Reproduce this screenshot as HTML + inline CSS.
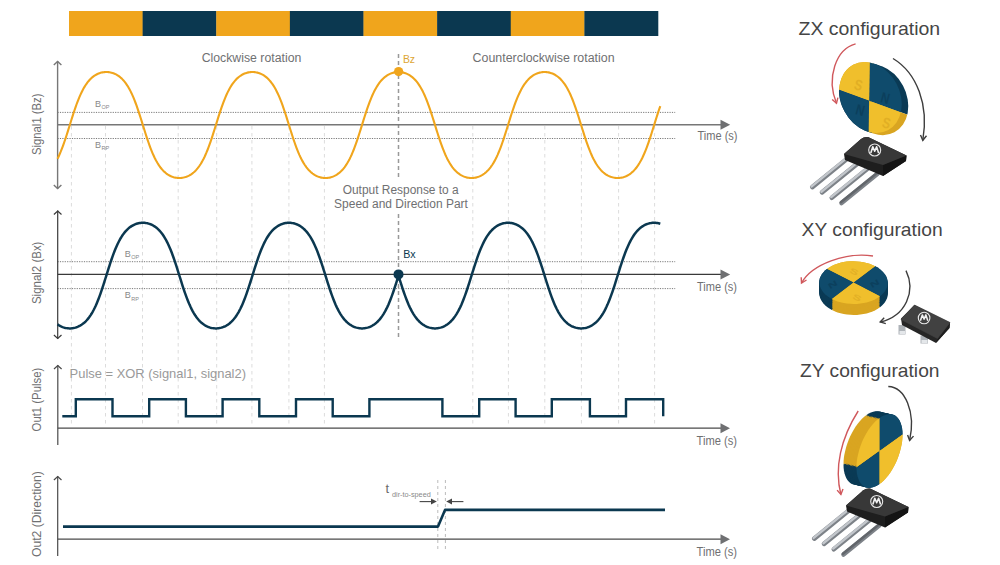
<!DOCTYPE html>
<html><head><meta charset="utf-8"><style>
html,body{margin:0;padding:0;background:#fff;width:1000px;height:565px;overflow:hidden}
svg{display:block}
text{font-family:"Liberation Sans",sans-serif}
</style></head><body>
<svg width="1000" height="565" viewBox="0 0 1000 565">
<rect width="1000" height="565" fill="#fff"/>
<rect x="69.00" y="11" width="73.92" height="25" fill="#F0A51C"/><rect x="142.62" y="11" width="73.92" height="25" fill="#0B3850"/><rect x="216.25" y="11" width="73.92" height="25" fill="#F0A51C"/><rect x="289.88" y="11" width="73.92" height="25" fill="#0B3850"/><rect x="363.50" y="11" width="73.92" height="25" fill="#F0A51C"/><rect x="437.12" y="11" width="73.92" height="25" fill="#0B3850"/><rect x="510.75" y="11" width="73.92" height="25" fill="#F0A51C"/><rect x="584.38" y="11" width="73.92" height="25" fill="#0B3850"/>
<g stroke="#dcdcdc" stroke-width="1" stroke-dasharray="3.5 3.5"><line x1="71.4" y1="126" x2="71.4" y2="424" /><line x1="105.5" y1="126" x2="105.5" y2="424" /><line x1="142.5" y1="126" x2="142.5" y2="424" /><line x1="178.2" y1="126" x2="178.2" y2="424" /><line x1="216.7" y1="126" x2="216.7" y2="424" /><line x1="251.9" y1="126" x2="251.9" y2="424" /><line x1="288.9" y1="126" x2="288.9" y2="424" /><line x1="324.4" y1="126" x2="324.4" y2="424" /><line x1="472.8" y1="126" x2="472.8" y2="424" /><line x1="508.4" y1="126" x2="508.4" y2="424" /><line x1="544.8" y1="126" x2="544.8" y2="424" /><line x1="581.4" y1="126" x2="581.4" y2="424" /><line x1="618.6" y1="126" x2="618.6" y2="424" /><line x1="654.6" y1="126" x2="654.6" y2="424" /></g>
<line x1="398.5" y1="54" x2="398.5" y2="180" stroke="#999" stroke-width="1.5" stroke-dasharray="4 3"/>
<line x1="398.5" y1="214" x2="398.5" y2="337" stroke="#999" stroke-width="1.5" stroke-dasharray="4 3"/>
<line x1="437.8" y1="480" x2="437.8" y2="549" stroke="#bbb" stroke-width="1" stroke-dasharray="3 3"/>
<line x1="445.4" y1="480" x2="445.4" y2="549" stroke="#bbb" stroke-width="1" stroke-dasharray="3 3"/>

<!-- chart 1 -->
<g stroke="#7a7a7a" stroke-width="1" stroke-dasharray="1.2 1.2">
<line x1="57.5" y1="112.4" x2="675.2" y2="112.4"/>
<line x1="57.5" y1="138.5" x2="675.2" y2="138.5"/>
<line x1="57.5" y1="261.7" x2="675.2" y2="261.7"/>
<line x1="57.5" y1="288.6" x2="675.2" y2="288.6"/>
</g>
<g stroke="#777" stroke-width="1.4" fill="none">
<line x1="57.6" y1="61" x2="57.6" y2="189"/>
<path d="M53.8 65.0 L57.6 61.5 L61.4 65.0" fill="none"/><path d="M53.8 185.0 L57.6 188.5 L61.4 185.0" fill="none"/>
<line x1="57.6" y1="124.8" x2="722" y2="124.8"/>
</g>
<path d="M720.5 119.8 L730.2 124.8 L720.5 129.8 Z" fill="#6f7072"/>
<path d="M57.50 158.77 L58.50 156.72 L59.50 154.53 L60.50 152.20 L61.50 149.72 L62.50 147.12 L63.50 144.38 L64.50 141.52 L65.50 138.55 L66.50 135.50 L67.50 132.37 L68.50 129.18 L69.50 125.97 L70.50 122.74 L71.50 119.54 L72.50 116.37 L73.50 113.27 L74.50 110.25 L75.50 107.32 L76.50 104.51 L77.50 101.82 L78.50 99.27 L79.50 96.85 L80.50 94.58 L81.50 92.44 L82.50 90.45 L83.50 88.59 L84.50 86.87 L85.50 85.27 L86.50 83.80 L87.50 82.44 L88.50 81.19 L89.50 80.05 L90.50 79.00 L91.50 78.05 L92.50 77.18 L93.50 76.40 L94.50 75.69 L95.50 75.06 L96.50 74.49 L97.50 73.99 L98.50 73.55 L99.50 73.17 L100.50 72.85 L101.50 72.58 L102.50 72.36 L103.50 72.20 L104.50 72.08 L105.50 72.02 L106.50 72.00 L107.50 72.03 L108.50 72.12 L109.50 72.25 L110.50 72.43 L111.50 72.67 L112.50 72.95 L113.50 73.30 L114.50 73.70 L115.50 74.16 L116.50 74.68 L117.50 75.27 L118.50 75.93 L119.50 76.67 L120.50 77.48 L121.50 78.37 L122.50 79.36 L123.50 80.44 L124.50 81.62 L125.50 82.90 L126.50 84.30 L127.50 85.82 L128.50 87.46 L129.50 89.23 L130.50 91.13 L131.50 93.18 L132.50 95.36 L133.50 97.68 L134.50 100.15 L135.50 102.75 L136.50 105.48 L137.50 108.33 L138.50 111.29 L139.50 114.35 L140.50 117.48 L141.50 120.66 L142.50 123.87 L143.50 127.09 L144.50 130.30 L145.50 133.47 L146.50 136.58 L147.50 139.60 L148.50 142.53 L149.50 145.35 L150.50 148.04 L151.50 150.61 L152.50 153.03 L153.50 155.31 L154.50 157.45 L155.50 159.45 L156.50 161.32 L157.50 163.05 L158.50 164.65 L159.50 166.13 L160.50 167.49 L161.50 168.75 L162.50 169.90 L163.50 170.95 L164.50 171.90 L165.50 172.77 L166.50 173.56 L167.50 174.27 L168.50 174.91 L169.50 175.48 L170.50 175.99 L171.50 176.43 L172.50 176.81 L173.50 177.14 L174.50 177.41 L175.50 177.63 L176.50 177.80 L177.50 177.91 L178.50 177.98 L179.50 178.00 L180.50 177.97 L181.50 177.89 L182.50 177.76 L183.50 177.58 L184.50 177.35 L185.50 177.06 L186.50 176.72 L187.50 176.32 L188.50 175.87 L189.50 175.35 L190.50 174.76 L191.50 174.10 L192.50 173.37 L193.50 172.56 L194.50 171.67 L195.50 170.69 L196.50 169.62 L197.50 168.44 L198.50 167.16 L199.50 165.77 L200.50 164.26 L201.50 162.63 L202.50 160.86 L203.50 158.97 L204.50 156.93 L205.50 154.75 L206.50 152.44 L207.50 149.98 L208.50 147.38 L209.50 144.66 L210.50 141.81 L211.50 138.86 L212.50 135.81 L213.50 132.68 L214.50 129.50 L215.50 126.29 L216.50 123.07 L217.50 119.86 L218.50 116.69 L219.50 113.58 L220.50 110.55 L221.50 107.61 L222.50 104.79 L223.50 102.09 L224.50 99.52 L225.50 97.09 L226.50 94.80 L227.50 92.65 L228.50 90.64 L229.50 88.77 L230.50 87.04 L231.50 85.43 L232.50 83.94 L233.50 82.57 L234.50 81.31 L235.50 80.16 L236.50 79.10 L237.50 78.14 L238.50 77.27 L239.50 76.47 L240.50 75.76 L241.50 75.12 L242.50 74.54 L243.50 74.04 L244.50 73.59 L245.50 73.21 L246.50 72.88 L247.50 72.60 L248.50 72.38 L249.50 72.21 L250.50 72.09 L251.50 72.02 L252.50 72.00 L253.50 72.03 L254.50 72.11 L255.50 72.23 L256.50 72.41 L257.50 72.64 L258.50 72.92 L259.50 73.26 L260.50 73.65 L261.50 74.11 L262.50 74.63 L263.50 75.21 L264.50 75.86 L265.50 76.59 L266.50 77.39 L267.50 78.28 L268.50 79.26 L269.50 80.33 L270.50 81.49 L271.50 82.77 L272.50 84.16 L273.50 85.66 L274.50 87.29 L275.50 89.04 L276.50 90.94 L277.50 92.96 L278.50 95.13 L279.50 97.44 L280.50 99.90 L281.50 102.48 L282.50 105.20 L283.50 108.04 L284.50 110.99 L285.50 114.04 L286.50 117.16 L287.50 120.34 L288.50 123.55 L289.50 126.77 L290.50 129.98 L291.50 133.15 L292.50 136.27 L293.50 139.31 L294.50 142.25 L295.50 145.07 L296.50 147.78 L297.50 150.36 L298.50 152.79 L299.50 155.09 L300.50 157.24 L301.50 159.26 L302.50 161.14 L303.50 162.88 L304.50 164.50 L305.50 165.99 L306.50 167.36 L307.50 168.63 L308.50 169.79 L309.50 170.85 L310.50 171.81 L311.50 172.69 L312.50 173.49 L313.50 174.21 L314.50 174.85 L315.50 175.43 L316.50 175.94 L317.50 176.39 L318.50 176.78 L319.50 177.11 L320.50 177.39 L321.50 177.61 L322.50 177.78 L323.50 177.90 L324.50 177.98 L325.50 178.00 L326.50 177.97 L327.50 177.90 L328.50 177.77 L329.50 177.60 L330.50 177.37 L331.50 177.09 L332.50 176.76 L333.50 176.37 L334.50 175.91 L335.50 175.40 L336.50 174.82 L337.50 174.17 L338.50 173.45 L339.50 172.65 L340.50 171.77 L341.50 170.79 L342.50 169.73 L343.50 168.57 L344.50 167.30 L345.50 165.92 L346.50 164.42 L347.50 162.80 L348.50 161.05 L349.50 159.16 L350.50 157.14 L351.50 154.98 L352.50 152.67 L353.50 150.23 L354.50 147.65 L355.50 144.94 L356.50 142.10 L357.50 139.16 L358.50 136.12 L359.50 133.00 L360.50 129.82 L361.50 126.61 L362.50 123.39 L363.50 120.18 L364.50 117.00 L365.50 113.88 L366.50 110.84 L367.50 107.90 L368.50 105.06 L369.50 102.35 L370.50 99.77 L371.50 97.33 L372.50 95.02 L373.50 92.86 L374.50 90.84 L375.50 88.95 L376.50 87.20 L377.50 85.58 L378.50 84.08 L379.50 82.70 L380.50 81.43 L381.50 80.27 L382.50 79.21 L383.50 78.23 L384.50 77.35 L385.50 76.55 L386.50 75.83 L387.50 75.18 L388.50 74.60 L389.50 74.09 L390.50 73.63 L391.50 73.24 L392.50 72.91 L393.50 72.63 L394.50 72.40 L395.50 72.23 L396.50 72.10 L397.50 72.03 L398.50 72.00 L398.50 72.00 L399.50 72.03 L400.50 72.10 L401.50 72.23 L402.50 72.40 L403.50 72.63 L404.50 72.91 L405.50 73.24 L406.50 73.63 L407.50 74.09 L408.50 74.60 L409.50 75.18 L410.50 75.83 L411.50 76.55 L412.50 77.35 L413.50 78.23 L414.50 79.21 L415.50 80.27 L416.50 81.43 L417.50 82.70 L418.50 84.08 L419.50 85.58 L420.50 87.20 L421.50 88.95 L422.50 90.84 L423.50 92.86 L424.50 95.02 L425.50 97.33 L426.50 99.77 L427.50 102.35 L428.50 105.06 L429.50 107.90 L430.50 110.84 L431.50 113.88 L432.50 117.00 L433.50 120.18 L434.50 123.39 L435.50 126.61 L436.50 129.82 L437.50 133.00 L438.50 136.12 L439.50 139.16 L440.50 142.10 L441.50 144.94 L442.50 147.65 L443.50 150.23 L444.50 152.67 L445.50 154.98 L446.50 157.14 L447.50 159.16 L448.50 161.05 L449.50 162.80 L450.50 164.42 L451.50 165.92 L452.50 167.30 L453.50 168.57 L454.50 169.73 L455.50 170.79 L456.50 171.77 L457.50 172.65 L458.50 173.45 L459.50 174.17 L460.50 174.82 L461.50 175.40 L462.50 175.91 L463.50 176.37 L464.50 176.76 L465.50 177.09 L466.50 177.37 L467.50 177.60 L468.50 177.77 L469.50 177.90 L470.50 177.97 L471.50 178.00 L472.50 177.98 L473.50 177.90 L474.50 177.78 L475.50 177.61 L476.50 177.39 L477.50 177.11 L478.50 176.78 L479.50 176.39 L480.50 175.94 L481.50 175.43 L482.50 174.85 L483.50 174.21 L484.50 173.49 L485.50 172.69 L486.50 171.81 L487.50 170.85 L488.50 169.79 L489.50 168.63 L490.50 167.36 L491.50 165.99 L492.50 164.50 L493.50 162.88 L494.50 161.14 L495.50 159.26 L496.50 157.24 L497.50 155.09 L498.50 152.79 L499.50 150.36 L500.50 147.78 L501.50 145.07 L502.50 142.25 L503.50 139.31 L504.50 136.27 L505.50 133.15 L506.50 129.98 L507.50 126.77 L508.50 123.55 L509.50 120.34 L510.50 117.16 L511.50 114.04 L512.50 110.99 L513.50 108.04 L514.50 105.20 L515.50 102.48 L516.50 99.90 L517.50 97.44 L518.50 95.13 L519.50 92.96 L520.50 90.94 L521.50 89.04 L522.50 87.29 L523.50 85.66 L524.50 84.16 L525.50 82.77 L526.50 81.49 L527.50 80.33 L528.50 79.26 L529.50 78.28 L530.50 77.39 L531.50 76.59 L532.50 75.86 L533.50 75.21 L534.50 74.63 L535.50 74.11 L536.50 73.65 L537.50 73.26 L538.50 72.92 L539.50 72.64 L540.50 72.41 L541.50 72.23 L542.50 72.11 L543.50 72.03 L544.50 72.00 L545.50 72.02 L546.50 72.09 L547.50 72.21 L548.50 72.38 L549.50 72.60 L550.50 72.88 L551.50 73.21 L552.50 73.59 L553.50 74.04 L554.50 74.54 L555.50 75.12 L556.50 75.76 L557.50 76.47 L558.50 77.27 L559.50 78.14 L560.50 79.10 L561.50 80.16 L562.50 81.31 L563.50 82.57 L564.50 83.94 L565.50 85.43 L566.50 87.04 L567.50 88.77 L568.50 90.64 L569.50 92.65 L570.50 94.80 L571.50 97.09 L572.50 99.52 L573.50 102.09 L574.50 104.79 L575.50 107.61 L576.50 110.55 L577.50 113.58 L578.50 116.69 L579.50 119.86 L580.50 123.07 L581.50 126.29 L582.50 129.50 L583.50 132.68 L584.50 135.81 L585.50 138.86 L586.50 141.81 L587.50 144.66 L588.50 147.38 L589.50 149.98 L590.50 152.44 L591.50 154.75 L592.50 156.93 L593.50 158.97 L594.50 160.86 L595.50 162.63 L596.50 164.26 L597.50 165.77 L598.50 167.16 L599.50 168.44 L600.50 169.62 L601.50 170.69 L602.50 171.67 L603.50 172.56 L604.50 173.37 L605.50 174.10 L606.50 174.76 L607.50 175.35 L608.50 175.87 L609.50 176.32 L610.50 176.72 L611.50 177.06 L612.50 177.35 L613.50 177.58 L614.50 177.76 L615.50 177.89 L616.50 177.97 L617.50 178.00 L618.50 177.98 L619.50 177.91 L620.50 177.80 L621.50 177.63 L622.50 177.41 L623.50 177.14 L624.50 176.81 L625.50 176.43 L626.50 175.99 L627.50 175.48 L628.50 174.91 L629.50 174.27 L630.50 173.56 L631.50 172.77 L632.50 171.90 L633.50 170.95 L634.50 169.90 L635.50 168.75 L636.50 167.49 L637.50 166.13 L638.50 164.65 L639.50 163.05 L640.50 161.32 L641.50 159.45 L642.50 157.45 L643.50 155.31 L644.50 153.03 L645.50 150.61 L646.50 148.04 L647.50 145.35 L648.50 142.53 L649.50 139.60 L650.50 136.58 L651.50 133.47 L652.50 130.30 L653.50 127.09 L654.50 123.87 L655.50 120.66 L656.50 117.48 L657.50 114.35 L658.50 111.29 L659.50 108.33 L660.30 106.04" fill="none" stroke="#F0A51C" stroke-width="2.1"/>
<circle cx="398.6" cy="71.6" r="4.6" fill="#F0A51C"/>
<text x="402.9" y="62.8" font-size="10.3" fill="#DDA535" textLength="12.2" lengthAdjust="spacingAndGlyphs">Bz</text>
<text x="251.5" y="61.7" font-size="12" fill="#6f7072" text-anchor="middle" textLength="99.7" lengthAdjust="spacingAndGlyphs">Clockwise rotation</text>
<text x="543.6" y="61.7" font-size="12" fill="#6f7072" text-anchor="middle" textLength="142" lengthAdjust="spacingAndGlyphs">Counterclockwise rotation</text>
<text x="697.5" y="139.7" font-size="12" fill="#6f7072" textLength="40" lengthAdjust="spacingAndGlyphs">Time (s)</text>
<text x="95.1" y="106.7" font-size="9" fill="#888">B<tspan font-size="5.5" dy="2.6" dx="0.4">OP</tspan></text>
<text x="95.1" y="147.5" font-size="9" fill="#888">B<tspan font-size="5.5" dy="2.7" dx="0.4">RP</tspan></text>
<text transform="translate(40.8 124.25) rotate(-90)" font-size="12" fill="#6f7072" text-anchor="middle" textLength="61.5" lengthAdjust="spacingAndGlyphs">Signal1 (Bz)</text>

<!-- text middle -->
<text x="400.7" y="193.8" font-size="12" fill="#6f7072" text-anchor="middle" textLength="116" lengthAdjust="spacingAndGlyphs">Output Response to a</text>
<text x="401" y="207.9" font-size="12" fill="#6f7072" text-anchor="middle" textLength="133.8" lengthAdjust="spacingAndGlyphs">Speed and Direction Part</text>

<!-- chart 2 -->
<g stroke="#3a3a3a" stroke-width="1.2" fill="none">
<line x1="57.7" y1="210.5" x2="57.7" y2="339"/>
<path d="M53.9 214.5 L57.7 211.0 L61.5 214.5" fill="none"/><path d="M53.9 335.0 L57.7 338.5 L61.5 335.0" fill="none"/>
<line x1="57.7" y1="274.4" x2="722" y2="274.4"/>
</g>
<path d="M720.5 269.4 L730.2 274.4 L720.5 279.4 Z" fill="#6f7072"/>
<path d="M57.50 324.40 L58.50 325.06 L59.50 325.66 L60.50 326.19 L61.50 326.65 L62.50 327.06 L63.50 327.41 L64.50 327.70 L65.50 327.94 L66.50 328.13 L67.50 328.27 L68.50 328.36 L69.50 328.40 L70.50 328.39 L71.50 328.33 L72.50 328.22 L73.50 328.06 L74.50 327.85 L75.50 327.59 L76.50 327.28 L77.50 326.91 L78.50 326.48 L79.50 325.98 L80.50 325.43 L81.50 324.80 L82.50 324.11 L83.50 323.34 L84.50 322.48 L85.50 321.55 L86.50 320.52 L87.50 319.39 L88.50 318.16 L89.50 316.82 L90.50 315.37 L91.50 313.79 L92.50 312.09 L93.50 310.26 L94.50 308.29 L95.50 306.18 L96.50 303.93 L97.50 301.54 L98.50 299.01 L99.50 296.35 L100.50 293.57 L101.50 290.67 L102.50 287.67 L103.50 284.58 L104.50 281.44 L105.50 278.25 L106.50 275.04 L107.50 271.83 L108.50 268.66 L109.50 265.53 L110.50 262.47 L111.50 259.51 L112.50 256.64 L113.50 253.90 L114.50 251.29 L115.50 248.81 L116.50 246.47 L117.50 244.27 L118.50 242.21 L119.50 240.29 L120.50 238.50 L121.50 236.84 L122.50 235.31 L123.50 233.90 L124.50 232.60 L125.50 231.40 L126.50 230.31 L127.50 229.32 L128.50 228.41 L129.50 227.58 L130.50 226.84 L131.50 226.17 L132.50 225.57 L133.50 225.04 L134.50 224.57 L135.50 224.16 L136.50 223.81 L137.50 223.51 L138.50 223.27 L139.50 223.08 L140.50 222.94 L141.50 222.84 L142.50 222.80 L143.50 222.81 L144.50 222.87 L145.50 222.97 L146.50 223.13 L147.50 223.33 L148.50 223.59 L149.50 223.91 L150.50 224.27 L151.50 224.70 L152.50 225.19 L153.50 225.74 L154.50 226.36 L155.50 227.05 L156.50 227.82 L157.50 228.67 L158.50 229.60 L159.50 230.63 L160.50 231.75 L161.50 232.98 L162.50 234.31 L163.50 235.76 L164.50 237.33 L165.50 239.02 L166.50 240.85 L167.50 242.81 L168.50 244.91 L169.50 247.15 L170.50 249.54 L171.50 252.06 L172.50 254.71 L173.50 257.49 L174.50 260.39 L175.50 263.38 L176.50 266.46 L177.50 269.60 L178.50 272.79 L179.50 276.00 L180.50 279.21 L181.50 282.39 L182.50 285.52 L183.50 288.58 L184.50 291.55 L185.50 294.42 L186.50 297.16 L187.50 299.79 L188.50 302.27 L189.50 304.62 L190.50 306.83 L191.50 308.89 L192.50 310.82 L193.50 312.62 L194.50 314.28 L195.50 315.82 L196.50 317.23 L197.50 318.54 L198.50 319.74 L199.50 320.84 L200.50 321.84 L201.50 322.75 L202.50 323.58 L203.50 324.33 L204.50 325.00 L205.50 325.60 L206.50 326.14 L207.50 326.61 L208.50 327.02 L209.50 327.38 L210.50 327.68 L211.50 327.92 L212.50 328.12 L213.50 328.26 L214.50 328.35 L215.50 328.40 L216.50 328.39 L217.50 328.34 L218.50 328.23 L219.50 328.08 L220.50 327.88 L221.50 327.62 L222.50 327.31 L223.50 326.95 L224.50 326.52 L225.50 326.04 L226.50 325.49 L227.50 324.87 L228.50 324.18 L229.50 323.42 L230.50 322.57 L231.50 321.64 L232.50 320.62 L233.50 319.51 L234.50 318.29 L235.50 316.96 L236.50 315.52 L237.50 313.96 L238.50 312.27 L239.50 310.45 L240.50 308.49 L241.50 306.40 L242.50 304.16 L243.50 301.79 L244.50 299.27 L245.50 296.62 L246.50 293.85 L247.50 290.96 L248.50 287.97 L249.50 284.90 L250.50 281.75 L251.50 278.57 L252.50 275.36 L253.50 272.15 L254.50 268.97 L255.50 265.84 L256.50 262.77 L257.50 259.80 L258.50 256.93 L259.50 254.17 L260.50 251.54 L261.50 249.05 L262.50 246.69 L263.50 244.48 L264.50 242.41 L265.50 240.47 L266.50 238.67 L267.50 237.00 L268.50 235.46 L269.50 234.03 L270.50 232.72 L271.50 231.52 L272.50 230.42 L273.50 229.41 L274.50 228.49 L275.50 227.66 L276.50 226.91 L277.50 226.23 L278.50 225.63 L279.50 225.09 L280.50 224.61 L281.50 224.20 L282.50 223.84 L283.50 223.54 L284.50 223.29 L285.50 223.09 L286.50 222.95 L287.50 222.85 L288.50 222.80 L289.50 222.81 L290.50 222.86 L291.50 222.96 L292.50 223.11 L293.50 223.31 L294.50 223.56 L295.50 223.87 L296.50 224.23 L297.50 224.66 L298.50 225.14 L299.50 225.68 L300.50 226.30 L301.50 226.98 L302.50 227.74 L303.50 228.58 L304.50 229.51 L305.50 230.52 L306.50 231.63 L307.50 232.85 L308.50 234.17 L309.50 235.61 L310.50 237.16 L311.50 238.85 L312.50 240.66 L313.50 242.61 L314.50 244.69 L315.50 246.92 L316.50 249.29 L317.50 251.80 L318.50 254.44 L319.50 257.21 L320.50 260.09 L321.50 263.08 L322.50 266.15 L323.50 269.29 L324.50 272.47 L325.50 275.68 L326.50 278.89 L327.50 282.07 L328.50 285.21 L329.50 288.27 L330.50 291.26 L331.50 294.13 L332.50 296.89 L333.50 299.53 L334.50 302.03 L335.50 304.39 L336.50 306.61 L337.50 308.69 L338.50 310.64 L339.50 312.44 L340.50 314.12 L341.50 315.67 L342.50 317.10 L343.50 318.41 L344.50 319.62 L345.50 320.73 L346.50 321.74 L347.50 322.66 L348.50 323.50 L349.50 324.25 L350.50 324.93 L351.50 325.54 L352.50 326.09 L353.50 326.57 L354.50 326.98 L355.50 327.34 L356.50 327.65 L357.50 327.90 L358.50 328.10 L359.50 328.25 L360.50 328.35 L361.50 328.39 L362.50 328.39 L363.50 328.35 L364.50 328.25 L365.50 328.10 L366.50 327.90 L367.50 327.65 L368.50 327.34 L369.50 326.98 L370.50 326.57 L371.50 326.09 L372.50 325.54 L373.50 324.93 L374.50 324.25 L375.50 323.50 L376.50 322.66 L377.50 321.74 L378.50 320.73 L379.50 319.62 L380.50 318.41 L381.50 317.10 L382.50 315.67 L383.50 314.12 L384.50 312.44 L385.50 310.64 L386.50 308.69 L387.50 306.61 L388.50 304.39 L389.50 302.03 L390.50 299.53 L391.50 296.89 L392.50 294.13 L393.50 291.26 L394.50 288.27 L395.50 285.21 L396.50 282.07 L397.50 278.89 L398.50 275.68 L398.50 275.68 L399.50 278.89 L400.50 282.07 L401.50 285.21 L402.50 288.27 L403.50 291.26 L404.50 294.13 L405.50 296.89 L406.50 299.53 L407.50 302.03 L408.50 304.39 L409.50 306.61 L410.50 308.69 L411.50 310.64 L412.50 312.44 L413.50 314.12 L414.50 315.67 L415.50 317.10 L416.50 318.41 L417.50 319.62 L418.50 320.73 L419.50 321.74 L420.50 322.66 L421.50 323.50 L422.50 324.25 L423.50 324.93 L424.50 325.54 L425.50 326.09 L426.50 326.57 L427.50 326.98 L428.50 327.34 L429.50 327.65 L430.50 327.90 L431.50 328.10 L432.50 328.25 L433.50 328.35 L434.50 328.39 L435.50 328.39 L436.50 328.35 L437.50 328.25 L438.50 328.10 L439.50 327.90 L440.50 327.65 L441.50 327.34 L442.50 326.98 L443.50 326.57 L444.50 326.09 L445.50 325.54 L446.50 324.93 L447.50 324.25 L448.50 323.50 L449.50 322.66 L450.50 321.74 L451.50 320.73 L452.50 319.62 L453.50 318.41 L454.50 317.10 L455.50 315.67 L456.50 314.12 L457.50 312.44 L458.50 310.64 L459.50 308.69 L460.50 306.61 L461.50 304.39 L462.50 302.03 L463.50 299.53 L464.50 296.89 L465.50 294.13 L466.50 291.26 L467.50 288.27 L468.50 285.21 L469.50 282.07 L470.50 278.89 L471.50 275.68 L472.50 272.47 L473.50 269.29 L474.50 266.15 L475.50 263.08 L476.50 260.09 L477.50 257.21 L478.50 254.44 L479.50 251.80 L480.50 249.29 L481.50 246.92 L482.50 244.69 L483.50 242.61 L484.50 240.66 L485.50 238.85 L486.50 237.16 L487.50 235.61 L488.50 234.17 L489.50 232.85 L490.50 231.63 L491.50 230.52 L492.50 229.51 L493.50 228.58 L494.50 227.74 L495.50 226.98 L496.50 226.30 L497.50 225.68 L498.50 225.14 L499.50 224.66 L500.50 224.23 L501.50 223.87 L502.50 223.56 L503.50 223.31 L504.50 223.11 L505.50 222.96 L506.50 222.86 L507.50 222.81 L508.50 222.80 L509.50 222.85 L510.50 222.95 L511.50 223.09 L512.50 223.29 L513.50 223.54 L514.50 223.84 L515.50 224.20 L516.50 224.61 L517.50 225.09 L518.50 225.63 L519.50 226.23 L520.50 226.91 L521.50 227.66 L522.50 228.49 L523.50 229.41 L524.50 230.42 L525.50 231.52 L526.50 232.72 L527.50 234.03 L528.50 235.46 L529.50 237.00 L530.50 238.67 L531.50 240.47 L532.50 242.41 L533.50 244.48 L534.50 246.69 L535.50 249.05 L536.50 251.54 L537.50 254.17 L538.50 256.93 L539.50 259.80 L540.50 262.77 L541.50 265.84 L542.50 268.97 L543.50 272.15 L544.50 275.36 L545.50 278.57 L546.50 281.75 L547.50 284.90 L548.50 287.97 L549.50 290.96 L550.50 293.85 L551.50 296.62 L552.50 299.27 L553.50 301.79 L554.50 304.16 L555.50 306.40 L556.50 308.49 L557.50 310.45 L558.50 312.27 L559.50 313.96 L560.50 315.52 L561.50 316.96 L562.50 318.29 L563.50 319.51 L564.50 320.62 L565.50 321.64 L566.50 322.57 L567.50 323.42 L568.50 324.18 L569.50 324.87 L570.50 325.49 L571.50 326.04 L572.50 326.52 L573.50 326.95 L574.50 327.31 L575.50 327.62 L576.50 327.88 L577.50 328.08 L578.50 328.23 L579.50 328.34 L580.50 328.39 L581.50 328.40 L582.50 328.35 L583.50 328.26 L584.50 328.12 L585.50 327.92 L586.50 327.68 L587.50 327.38 L588.50 327.02 L589.50 326.61 L590.50 326.14 L591.50 325.60 L592.50 325.00 L593.50 324.33 L594.50 323.58 L595.50 322.75 L596.50 321.84 L597.50 320.84 L598.50 319.74 L599.50 318.54 L600.50 317.23 L601.50 315.82 L602.50 314.28 L603.50 312.62 L604.50 310.82 L605.50 308.89 L606.50 306.83 L607.50 304.62 L608.50 302.27 L609.50 299.79 L610.50 297.16 L611.50 294.42 L612.50 291.55 L613.50 288.58 L614.50 285.52 L615.50 282.39 L616.50 279.21 L617.50 276.00 L618.50 272.79 L619.50 269.60 L620.50 266.46 L621.50 263.38 L622.50 260.39 L623.50 257.49 L624.50 254.71 L625.50 252.06 L626.50 249.54 L627.50 247.15 L628.50 244.91 L629.50 242.81 L630.50 240.85 L631.50 239.02 L632.50 237.33 L633.50 235.76 L634.50 234.31 L635.50 232.98 L636.50 231.75 L637.50 230.63 L638.50 229.60 L639.50 228.67 L640.50 227.82 L641.50 227.05 L642.50 226.36 L643.50 225.74 L644.50 225.19 L645.50 224.70 L646.50 224.27 L647.50 223.91 L648.50 223.59 L649.50 223.33 L650.50 223.13 L651.50 222.97 L652.50 222.87 L653.50 222.81 L654.50 222.80 L655.50 222.84 L656.50 222.94 L657.50 223.08 L658.50 223.27 L659.50 223.51 L660.30 223.74" fill="none" stroke="#0B3850" stroke-width="2.5"/>
<circle cx="398.5" cy="274.4" r="5" fill="#0B3850"/>
<text x="403.2" y="257.6" font-size="11.5" fill="#0B3850" textLength="12.5" lengthAdjust="spacingAndGlyphs">Bx</text>
<text x="697" y="290.7" font-size="12" fill="#6f7072" textLength="40" lengthAdjust="spacingAndGlyphs">Time (s)</text>
<text x="124.8" y="256.7" font-size="9" fill="#888">B<tspan font-size="5.5" dy="2.6" dx="0.4">OP</tspan></text>
<text x="124.8" y="297.8" font-size="9" fill="#888">B<tspan font-size="5.5" dy="2.9" dx="0.4">RP</tspan></text>
<text transform="translate(40.8 272.8) rotate(-90)" font-size="12" fill="#6f7072" text-anchor="middle" textLength="62.5" lengthAdjust="spacingAndGlyphs">Signal2 (Bx)</text>

<!-- chart 3 -->
<g stroke="#4a4a4a" stroke-width="1.2" fill="none">
<line x1="57.8" y1="365" x2="57.8" y2="445"/>
<path d="M54.0 369.0 L57.8 365.5 L61.6 369.0" fill="none"/>
<line x1="57.8" y1="428.2" x2="722" y2="428.2"/>
</g>
<path d="M720.5 423.2 L730 428.2 L720.5 433.2 Z" fill="#6f7072"/>
<path d="M62.3 416.3 L75.8 416.3 L75.8 399.3 L112.5 399.3 L112.5 416.3 L149.2 416.3 L149.2 399.3 L185.9 399.3 L185.9 416.3 L222.6 416.3 L222.6 399.3 L259.3 399.3 L259.3 416.3 L296.0 416.3 L296.0 399.3 L332.7 399.3 L332.7 416.3 L369.4 416.3 L369.4 399.3 L442.4 399.3 L442.4 416.3 L479.2 416.3 L479.2 399.3 L515.6 399.3 L515.6 416.3 L551.8 416.3 L551.8 399.3 L589.9 399.3 L589.9 416.3 L626.0 416.3 L626.0 399.3 L663.2 399.3 L663.2 416.3" fill="none" stroke="#0B3850" stroke-width="2.4"/>
<text x="69.6" y="378" font-size="13.5" fill="#9a9a9a" textLength="176.4" lengthAdjust="spacingAndGlyphs">Pulse = XOR (signal1, signal2)</text>
<text x="696.5" y="445" font-size="12" fill="#6f7072" textLength="40.5" lengthAdjust="spacingAndGlyphs">Time (s)</text>
<text transform="translate(40.8 399.6) rotate(-90)" font-size="12" fill="#6f7072" text-anchor="middle" textLength="63.7" lengthAdjust="spacingAndGlyphs">Out1 (Pulse)</text>

<!-- chart 4 -->
<g stroke="#4a4a4a" stroke-width="1.2" fill="none">
<line x1="57.7" y1="476" x2="57.7" y2="556"/>
<path d="M53.9 480.0 L57.7 476.5 L61.5 480.0" fill="none"/>
<line x1="57.7" y1="539.2" x2="722" y2="539.2"/>
</g>
<path d="M720.5 534.2 L730 539.2 L720.5 544.2 Z" fill="#6f7072"/>
<path d="M63 526.6 L438 526.6 L445 509.9 L665 509.9" fill="none" stroke="#0B3850" stroke-width="2.6" stroke-linejoin="round"/>
<text x="696.5" y="555.5" font-size="12" fill="#6f7072" textLength="40.5" lengthAdjust="spacingAndGlyphs">Time (s)</text>
<text transform="translate(40.8 514.1) rotate(-90)" font-size="12" fill="#6f7072" text-anchor="middle" textLength="85.8" lengthAdjust="spacingAndGlyphs">Out2 (Direction)</text>
<g stroke="#444" stroke-width="1.1" fill="#444">
<line x1="419.6" y1="501.6" x2="432" y2="501.6"/>
<path d="M436.8 501.6 L431 498.6 L431 504.6 Z" stroke="none"/>
<line x1="451" y1="501.6" x2="463.4" y2="501.6"/>
<path d="M446.2 501.6 L452 498.6 L452 504.6 Z" stroke="none"/>
</g>
<text x="385.5" y="492.9" font-size="13" fill="#6a6a6a">t</text>
<text x="392" y="496.9" font-size="7" fill="#888" textLength="38.7" lengthAdjust="spacingAndGlyphs">dir-to-speed</text>

<!-- right side -->
<text x="798.5" y="34.7" font-size="18.5" fill="#454545" textLength="141.7" lengthAdjust="spacingAndGlyphs">ZX configuration</text>
<text x="801.6" y="236" font-size="18.5" fill="#454545" textLength="141" lengthAdjust="spacingAndGlyphs">XY configuration</text>
<text x="800" y="376.6" font-size="18.5" fill="#454545" textLength="139.5" lengthAdjust="spacingAndGlyphs">ZY configuration</text>
<path d="M855.6,43.9 C836,49 826,78 836.5,103.3" fill="none" stroke="#D0585C" stroke-width="1.4"/><path d="M832.2,99.4 L836.5,103.3 L837.9,97.6" fill="none" stroke="#D0585C" stroke-width="1.4" stroke-linejoin="miter"/><path d="M893,58.5 C917,73 929,105 922.8,140.3" fill="none" stroke="#3d3d3d" stroke-width="1.4"/><path d="M920.5,134.9 L922.8,140.3 L926.5,135.8" fill="none" stroke="#3d3d3d" stroke-width="1.4" stroke-linejoin="miter"/><defs><clipPath id="zxf"><ellipse cx="870.5" cy="97.5" rx="37" ry="29.5" transform="rotate(62 870.5 97.5)"/></clipPath><clipPath id="zxs"><ellipse cx="870.5" cy="97.5" rx="37" ry="29.5" transform="rotate(62 870.5 97.5)"/><ellipse cx="871" cy="97.7" rx="37" ry="29.5" transform="rotate(62 871 97.7)"/><ellipse cx="871.6" cy="97.9" rx="37" ry="29.5" transform="rotate(62 871.6 97.9)"/><ellipse cx="872.1" cy="98" rx="37" ry="29.5" transform="rotate(62 872.1 98)"/><ellipse cx="872.7" cy="98.2" rx="37" ry="29.5" transform="rotate(62 872.7 98.2)"/><ellipse cx="873.2" cy="98.4" rx="37" ry="29.5" transform="rotate(62 873.2 98.4)"/><ellipse cx="873.8" cy="98.6" rx="37" ry="29.5" transform="rotate(62 873.8 98.6)"/><ellipse cx="874.3" cy="98.8" rx="37" ry="29.5" transform="rotate(62 874.3 98.8)"/><ellipse cx="874.8" cy="99" rx="37" ry="29.5" transform="rotate(62 874.8 99)"/><ellipse cx="875.4" cy="99.2" rx="37" ry="29.5" transform="rotate(62 875.4 99.2)"/><ellipse cx="875.9" cy="99.3" rx="37" ry="29.5" transform="rotate(62 875.9 99.3)"/><ellipse cx="876.5" cy="99.5" rx="37" ry="29.5" transform="rotate(62 876.5 99.5)"/><ellipse cx="877" cy="99.7" rx="37" ry="29.5" transform="rotate(62 877 99.7)"/></clipPath></defs><g clip-path="url(#zxs)"><path d="M872.4,101.8 L992.4,145.5 L994,25.5 L874,-18.2 Z" fill="#0A3A55"/><path d="M872.4,101.8 L874,-18.2 L754,-61.9 L752.4,58.1 Z" fill="#D9A521"/><path d="M872.4,101.8 L752.4,58.1 L750.7,178.1 L870.7,221.8 Z" fill="#0A3A55"/><path d="M872.4,101.8 L870.7,221.8 L990.7,265.5 L992.4,145.5 Z" fill="#D9A521"/></g><g clip-path="url(#zxf)"><path d="M869.1,100.7 L989.1,144.4 L990.8,24.4 L870.8,-19.3 Z" fill="#0F4B6C"/><path d="M869.1,100.7 L870.8,-19.3 L750.8,-63 L749.1,57 Z" fill="#F0BF2C"/><path d="M869.1,100.7 L749.1,57 L747.4,177 L867.4,220.7 Z" fill="#0F4B6C"/><path d="M869.1,100.7 L867.4,220.7 L987.4,264.4 L989.1,144.4 Z" fill="#F0BF2C"/></g><g font-family="Liberation Sans" font-weight="bold" font-size="15" text-anchor="middle" opacity="0.55"><text transform="translate(857 90) rotate(15) scale(0.8 1)" fill="#D5A21F">S</text><text transform="translate(884 103) rotate(15) scale(0.8 1)" fill="#0A3650">N</text><text transform="translate(859 115) rotate(15) scale(0.8 1)" fill="#0A3650">N</text><text transform="translate(885 128) rotate(15) scale(0.8 1)" fill="#D5A21F">S</text></g><g transform="translate(0 0)"><line x1="847.5" y1="158.5" x2="812.3" y2="187.1" stroke="#7d8288" stroke-width="4.6" stroke-linecap="round"/><line x1="846.9" y1="157.8" x2="811.7" y2="186.4" stroke="#c2c6cb" stroke-width="2.4" stroke-linecap="round"/><line x1="857.5" y1="163.6" x2="822" y2="192.4" stroke="#7d8288" stroke-width="4.6" stroke-linecap="round"/><line x1="856.9" y1="162.9" x2="821.4" y2="191.7" stroke="#c2c6cb" stroke-width="2.4" stroke-linecap="round"/><line x1="867.5" y1="168.7" x2="831.8" y2="197.7" stroke="#7d8288" stroke-width="4.6" stroke-linecap="round"/><line x1="866.9" y1="168" x2="831.2" y2="197" stroke="#c2c6cb" stroke-width="2.4" stroke-linecap="round"/><line x1="877.5" y1="173.8" x2="841.5" y2="203" stroke="#7d8288" stroke-width="4.6" stroke-linecap="round"/><line x1="876.9" y1="173.1" x2="840.9" y2="202.3" stroke="#62666b" stroke-width="2.4" stroke-linecap="round"/><path d="M844,154 L861,139 Q864,136.5 868,137 L906.5,155.5 L906,161 L883,176 L845,160 Z" fill="#1e1e1e"/><path d="M883,165 L906.5,155.5 L906,161 L883,176 Z" fill="#141414"/><path d="M844,154 L861,139 Q864,136.5 868,137 L906.5,155.5 L883,165 Z" fill="#383838"/><circle cx="874.7" cy="150" r="6" fill="none" stroke="#e8e8e8" stroke-width="1.1"/><path d="M870.8,153 L872.8,146.8 L874.7,151.2 L876.6,146.8 L878.6,153" fill="none" stroke="#f2f2f2" stroke-width="1.6" stroke-linejoin="round"/></g><path d="M873,256 C846,252 812,264 801.5,283" fill="none" stroke="#D0585C" stroke-width="1.4"/><path d="M801.2,277.2 L801.5,283 L806.5,280" fill="none" stroke="#D0585C" stroke-width="1.4" stroke-linejoin="miter"/><path d="M906,270.6 C916,291 906,316 880.2,322" fill="none" stroke="#3d3d3d" stroke-width="1.4"/><path d="M884.2,317.8 L880.2,322 L885.8,323.6" fill="none" stroke="#3d3d3d" stroke-width="1.4" stroke-linejoin="miter"/><defs><g id="xys"><path d="M853.5,282.6 880,296.3 882,294.6 883.7,292.8 885.1,290.9 886.2,289 887.1,287 887.5,284.9 887.7,282.8 887.5,280.7 887,278.6 886.2,276.6 885,274.6 883.6,272.7 881.9,270.9 879.9,269.2 877.6,267.6 875.1,266.2Z" fill="#0A3A55"/><path d="M853.5,282.6 875.1,266.2 872.4,264.9 869.5,263.8 866.5,262.9 863.3,262.2 860.1,261.7 856.7,261.4 853.4,261.2 850,261.3 846.7,261.6 843.5,262.1 840.3,262.8 837.3,263.7 834.4,264.7 831.7,266 829.2,267.4 827,268.9Z" fill="#D9A521"/><path d="M853.5,282.6 827,268.9 825,270.6 823.3,272.4 821.9,274.3 820.8,276.2 819.9,278.2 819.5,280.3 819.3,282.4 819.5,284.5 820,286.6 820.8,288.6 822,290.6 823.4,292.5 825.1,294.3 827.1,296 829.4,297.6 831.9,299Z" fill="#0A3A55"/><path d="M853.5,282.6 831.9,299 834.6,300.3 837.5,301.4 840.5,302.3 843.7,303 846.9,303.5 850.3,303.8 853.6,304 857,303.9 860.3,303.6 863.5,303.1 866.7,302.4 869.7,301.5 872.6,300.5 875.3,299.2 877.8,297.8 880,296.3Z" fill="#D9A521"/></g></defs><use href="#xys" x="0" y="11"/><use href="#xys" x="0" y="9.9"/><use href="#xys" x="0" y="8.8"/><use href="#xys" x="0" y="7.7"/><use href="#xys" x="0" y="6.6"/><use href="#xys" x="0" y="5.5"/><use href="#xys" x="0" y="4.4"/><use href="#xys" x="0" y="3.3"/><use href="#xys" x="0" y="2.2"/><use href="#xys" x="0" y="1.1"/><use href="#xys" x="0" y="0"/><path d="M853.5,282.6 880,296.3 882,294.6 883.7,292.8 885.1,290.9 886.2,289 887.1,287 887.5,284.9 887.7,282.8 887.5,280.7 887,278.6 886.2,276.6 885,274.6 883.6,272.7 881.9,270.9 879.9,269.2 877.6,267.6 875.1,266.2Z" fill="#0F4B6C"/><path d="M853.5,282.6 875.1,266.2 872.4,264.9 869.5,263.8 866.5,262.9 863.3,262.2 860.1,261.7 856.7,261.4 853.4,261.2 850,261.3 846.7,261.6 843.5,262.1 840.3,262.8 837.3,263.7 834.4,264.7 831.7,266 829.2,267.4 827,268.9Z" fill="#F0BF2C"/><path d="M853.5,282.6 827,268.9 825,270.6 823.3,272.4 821.9,274.3 820.8,276.2 819.9,278.2 819.5,280.3 819.3,282.4 819.5,284.5 820,286.6 820.8,288.6 822,290.6 823.4,292.5 825.1,294.3 827.1,296 829.4,297.6 831.9,299Z" fill="#0F4B6C"/><path d="M853.5,282.6 831.9,299 834.6,300.3 837.5,301.4 840.5,302.3 843.7,303 846.9,303.5 850.3,303.8 853.6,304 857,303.9 860.3,303.6 863.5,303.1 866.7,302.4 869.7,301.5 872.6,300.5 875.3,299.2 877.8,297.8 880,296.3Z" fill="#F0BF2C"/><g font-family="Liberation Sans" font-weight="bold" font-size="13" text-anchor="middle" opacity="0.5"><text transform="translate(853 274) rotate(25) scale(1 0.6)" fill="#D5A21F">S</text><text transform="translate(876 286) rotate(-30) scale(1 0.6)" fill="#0A3650">N</text><text transform="translate(834 287) rotate(-30) scale(1 0.6)" fill="#0A3650">N</text><text transform="translate(856 300) rotate(25) scale(1 0.6)" fill="#D5A21F">S</text></g><path d="M898.5,325 L905.5,325 L905.5,334.5 L898.5,334.5 Z" fill="#aeb3b8"/><path d="M899.5,331 L905,331 L905,334 L899.5,334 Z" fill="#e4e7ea"/><path d="M920.5,335.5 L928,335.5 L928,343.5 L920.5,343.5 Z" fill="#aeb3b8"/><path d="M921.5,340 L927.5,340 L927.5,343 L921.5,343 Z" fill="#e4e7ea"/><path d="M914.5,305 L950,322.5 L949.5,328 L936,343 L902,325 L901,318.5 Z" fill="#262626"/><path d="M937.5,338.5 L950,322.5 L949.5,328 L936,343 Z" fill="#1e1e1e"/><path d="M914.5,305 L950,322.5 L937.5,338.5 L901,319.5 Z" fill="#414141" stroke="#414141" stroke-width="0.6" stroke-linejoin="round"/><circle cx="924.1" cy="318" r="5.8" fill="none" stroke="#e8e8e8" stroke-width="1.1"/><path d="M920.4,320.8 L922.3,314.9 L924.1,319.1 L925.9,314.9 L927.8,320.8" fill="none" stroke="#f2f2f2" stroke-width="1.5" stroke-linejoin="round"/><path d="M858.2,411 C841,438 834,468 840.9,494.5" fill="none" stroke="#D0585C" stroke-width="1.4"/><path d="M837.1,490.1 L840.9,494.5 L843,489.1" fill="none" stroke="#D0585C" stroke-width="1.4" stroke-linejoin="miter"/><path d="M888.3,386.5 C905,387 916,412 909.6,440.5" fill="none" stroke="#3d3d3d" stroke-width="1.4"/><path d="M907.6,435 L909.6,440.5 L913.5,436.1" fill="none" stroke="#3d3d3d" stroke-width="1.4" stroke-linejoin="miter"/><defs><g id="zys"><path d="M879.5,451 902.5,434.6 902.4,431.4 902.1,428.5 901.5,425.7 900.7,423.2 899.8,421 898.6,419 897.3,417.4 895.8,416.1 894.1,415.1 892.3,414.5 890.3,414.2 888.3,414.2 886.2,414.7 884,415.4 881.8,416.6 879.5,418Z" fill="#0A3A55"/><path d="M879.5,451 879.5,418 877.2,419.8 875,421.8 872.8,424.2 870.7,426.8 868.7,429.6 866.7,432.7 864.9,435.9 863.2,439.3 861.7,442.7 860.4,446.3 859.2,449.9 858.3,453.5 857.5,457.1 856.9,460.6 856.6,464.1 856.5,467.4Z" fill="#D9A521"/><path d="M879.5,451 856.5,467.4 856.6,470.6 856.9,473.5 857.5,476.3 858.3,478.8 859.2,481 860.4,483 861.7,484.6 863.2,485.9 864.9,486.9 866.7,487.5 868.7,487.8 870.7,487.8 872.8,487.3 875,486.6 877.2,485.4 879.5,484Z" fill="#0A3A55"/><path d="M879.5,451 879.5,484 881.8,482.2 884,480.2 886.2,477.8 888.3,475.2 890.3,472.4 892.3,469.3 894.1,466.1 895.8,462.7 897.3,459.3 898.6,455.7 899.8,452.1 900.7,448.5 901.5,444.9 902.1,441.4 902.4,437.9 902.5,434.6Z" fill="#D9A521"/></g></defs><use href="#zys" x="-13" y="-3"/><use href="#zys" x="-11.7" y="-2.7"/><use href="#zys" x="-10.4" y="-2.4"/><use href="#zys" x="-9.1" y="-2.1"/><use href="#zys" x="-7.8" y="-1.8"/><use href="#zys" x="-6.5" y="-1.5"/><use href="#zys" x="-5.2" y="-1.2"/><use href="#zys" x="-3.9" y="-0.9"/><use href="#zys" x="-2.6" y="-0.6"/><use href="#zys" x="-1.3" y="-0.3"/><use href="#zys" x="-0" y="-0"/><path d="M879.5,451 902.5,434.6 902.4,431.4 902.1,428.5 901.5,425.7 900.7,423.2 899.8,421 898.6,419 897.3,417.4 895.8,416.1 894.1,415.1 892.3,414.5 890.3,414.2 888.3,414.2 886.2,414.7 884,415.4 881.8,416.6 879.5,418Z" fill="#0F4B6C"/><path d="M879.5,451 879.5,418 877.2,419.8 875,421.8 872.8,424.2 870.7,426.8 868.7,429.6 866.7,432.7 864.9,435.9 863.2,439.3 861.7,442.7 860.4,446.3 859.2,449.9 858.3,453.5 857.5,457.1 856.9,460.6 856.6,464.1 856.5,467.4Z" fill="#F0BF2C"/><path d="M879.5,451 856.5,467.4 856.6,470.6 856.9,473.5 857.5,476.3 858.3,478.8 859.2,481 860.4,483 861.7,484.6 863.2,485.9 864.9,486.9 866.7,487.5 868.7,487.8 870.7,487.8 872.8,487.3 875,486.6 877.2,485.4 879.5,484Z" fill="#0F4B6C"/><path d="M879.5,451 879.5,484 881.8,482.2 884,480.2 886.2,477.8 888.3,475.2 890.3,472.4 892.3,469.3 894.1,466.1 895.8,462.7 897.3,459.3 898.6,455.7 899.8,452.1 900.7,448.5 901.5,444.9 902.1,441.4 902.4,437.9 902.5,434.6Z" fill="#F0BF2C"/><g transform="translate(2 351.5)"><line x1="847.5" y1="158.5" x2="812.3" y2="187.1" stroke="#7d8288" stroke-width="4.6" stroke-linecap="round"/><line x1="846.9" y1="157.8" x2="811.7" y2="186.4" stroke="#c2c6cb" stroke-width="2.4" stroke-linecap="round"/><line x1="857.5" y1="163.6" x2="822" y2="192.4" stroke="#7d8288" stroke-width="4.6" stroke-linecap="round"/><line x1="856.9" y1="162.9" x2="821.4" y2="191.7" stroke="#c2c6cb" stroke-width="2.4" stroke-linecap="round"/><line x1="867.5" y1="168.7" x2="831.8" y2="197.7" stroke="#7d8288" stroke-width="4.6" stroke-linecap="round"/><line x1="866.9" y1="168" x2="831.2" y2="197" stroke="#c2c6cb" stroke-width="2.4" stroke-linecap="round"/><line x1="877.5" y1="173.8" x2="841.5" y2="203" stroke="#7d8288" stroke-width="4.6" stroke-linecap="round"/><line x1="876.9" y1="173.1" x2="840.9" y2="202.3" stroke="#62666b" stroke-width="2.4" stroke-linecap="round"/><path d="M844,154 L861,139 Q864,136.5 868,137 L906.5,155.5 L906,161 L883,176 L845,160 Z" fill="#1e1e1e"/><path d="M883,165 L906.5,155.5 L906,161 L883,176 Z" fill="#141414"/><path d="M844,154 L861,139 Q864,136.5 868,137 L906.5,155.5 L883,165 Z" fill="#383838"/><circle cx="874.7" cy="150" r="6" fill="none" stroke="#e8e8e8" stroke-width="1.1"/><path d="M870.8,153 L872.8,146.8 L874.7,151.2 L876.6,146.8 L878.6,153" fill="none" stroke="#f2f2f2" stroke-width="1.6" stroke-linejoin="round"/></g>
</svg>
</body></html>
